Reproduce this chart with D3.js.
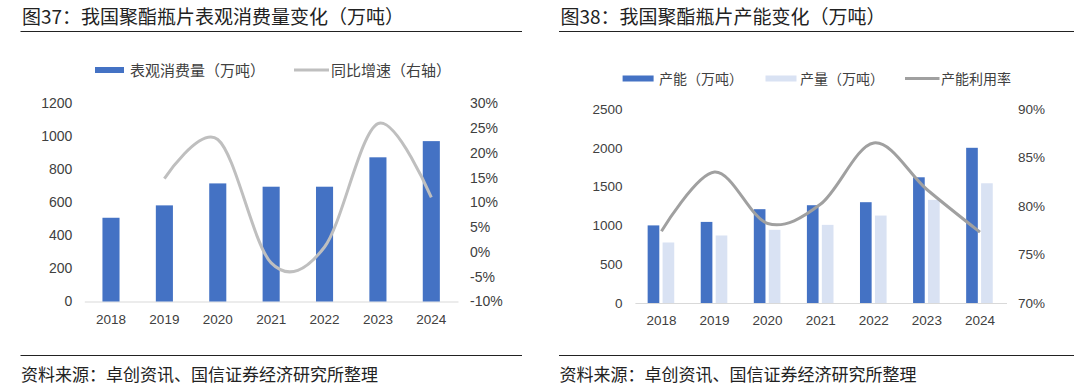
<!DOCTYPE html>
<html>
<head>
<meta charset="utf-8">
<style>
  body { margin: 0; background: #fff; }
  svg { display: block; }
  .cn { font-family: "Noto Sans CJK SC", "Noto Sans", sans-serif; }
  .tick text { font-family: "Liberation Sans", Arial, sans-serif; fill: #404040; }
</style>
</head>
<body>
<svg id="chart"></svg>
<script src="https://d3js.org/d3.v7.min.js"></script>
<script>
// ---- data ----
var years = ['2018', '2019', '2020', '2021', '2022', '2023', '2024'];
// figure 37
var consumption = [507, 582, 715, 695, 695, 873, 971];
var consumptionYoY = [null, 14.8, 22.7, -2.2, 1.0, 25.9, 11.0];
var consTicks = [0, 200, 400, 600, 800, 1000, 1200];
var yoyTicks = [-10, -5, 0, 5, 10, 15, 20, 25, 30];
// figure 38
var capacity = [1000, 1045, 1209, 1260, 1299, 1620, 2000];
var output = [780, 870, 943, 1007, 1127, 1329, 1543];
var utilization = [77.4, 83.5, 78.2, 80.2, 86.5, 81.7, 77.3];
var capTicks = [0, 500, 1000, 1500, 2000, 2500];
var utilTicks = [70, 75, 80, 85, 90];

var titles = ['图37：我国聚酯瓶片表观消费量变化（万吨）', '图38：我国聚酯瓶片产能变化（万吨）'];
var source = '资料来源：卓创资讯、国信证券经济研究所整理';

var blue = '#4472c4', light = '#d9e2f3';
var pct = function (d) { return d + '%'; };

var svg = d3.select('#chart').attr('width', 1080).attr('height', 386);
svg.append('rect').attr('width', 1080).attr('height', 386).attr('fill', '#fff');

// titles, rules and source lines
function frame(x0, x1, title) {
  svg.append('text').attr('class', 'cn').attr('x', x0 + 1.5).attr('y', 23.5)
    .attr('font-size', 19).attr('fill', '#222').text(title);
  svg.append('line').attr('x1', x0).attr('x2', x1).attr('y1', 31.5).attr('y2', 31.5)
    .attr('stroke', '#222').attr('stroke-width', 1.2);
  svg.append('line').attr('x1', x0).attr('x2', x1).attr('y1', 355.5).attr('y2', 355.5)
    .attr('stroke', '#222').attr('stroke-width', 1.2);
  svg.append('text').attr('class', 'cn').attr('x', x0 + 0.5).attr('y', 380.8)
    .attr('font-size', 17).attr('fill', '#222').text(source);
}
frame(20.5, 522, titles[0]);
frame(559, 1074, titles[1]);

function styleAxis(g, size) {
  g.select('.domain').remove();
  g.selectAll('.tick line').remove();
  g.selectAll('.tick text').attr('font-size', size);
}
function styleXAxis(g, size) {
  g.selectAll('.tick line').remove();
  g.selectAll('.tick text').attr('font-size', size);
  g.select('.domain').attr('stroke', '#d9d9d9').attr('stroke-width', 1);
}

// ---- figure 37 ----
var x1 = d3.scaleBand().domain(years).range([84.3, 458]).paddingInner(0.68).paddingOuter(0.34);
var yL1 = d3.scaleLinear().domain([0, 1200]).range([301.5, 103.3]);
var yR1 = d3.scaleLinear().domain([-10, 30]).range([301.5, 103.3]);

svg.append('g').attr('transform', 'translate(84.3,0)')
  .call(d3.axisLeft(yL1).tickValues(consTicks).tickSize(0).tickPadding(12).tickFormat(d3.format('d')))
  .call(styleAxis, 14);
svg.append('g').attr('transform', 'translate(458,0)')
  .call(d3.axisRight(yR1).tickValues(yoyTicks).tickSize(0).tickPadding(12).tickFormat(pct))
  .call(styleAxis, 14);
svg.append('g').attr('transform', 'translate(0,301.5)')
  .call(d3.axisBottom(x1).tickSize(0).tickPadding(13))
  .call(styleXAxis, 13.5);

svg.append('g').selectAll('rect').data(consumption).enter().append('rect')
  .attr('x', function (d, i) { return x1(years[i]); })
  .attr('y', function (d) { return yL1(d); })
  .attr('width', x1.bandwidth())
  .attr('height', function (d) { return yL1(0) - yL1(d); })
  .attr('fill', blue);

var line1 = d3.line()
  .defined(function (d) { return d != null; })
  .x(function (d, i) { return x1(years[i]) + x1.bandwidth() / 2; })
  .y(function (d) { return yR1(d); })
  .curve(d3.curveCardinal.tension(0));
svg.append('path').datum(consumptionYoY).attr('d', line1)
  .attr('fill', 'none').attr('stroke', '#bfbfbf').attr('stroke-width', 3);

// legend 37
var lg1 = svg.append('g').attr('class', 'cn').attr('font-size', 15).attr('fill', '#404040');
lg1.append('rect').attr('x', 95).attr('y', 67).attr('width', 29).attr('height', 6).attr('fill', blue);
lg1.append('text').attr('x', 130).attr('y', 75.5).text('表观消费量（万吨）');
lg1.append('line').attr('x1', 294).attr('x2', 329).attr('y1', 70).attr('y2', 70)
  .attr('stroke', '#bfbfbf').attr('stroke-width', 3);
lg1.append('text').attr('x', 331).attr('y', 75.5).text('同比增速（右轴）');

// ---- figure 38 ----
var x2 = d3.scaleBand().domain(years).range([634.9, 1006.5]);
var bw = x2.bandwidth();
var xSub = d3.scaleBand().domain(['cap', 'out']).range([bw / 2 - 13.8, bw / 2 + 12.8]).paddingInner(0.22);
var yL2 = d3.scaleLinear().domain([0, 2500]).range([303, 109]);
var yR2 = d3.scaleLinear().domain([70, 90]).range([303, 109]);

svg.append('g').attr('transform', 'translate(634.9,0)')
  .call(d3.axisLeft(yL2).tickValues(capTicks).tickSize(0).tickPadding(12.3).tickFormat(d3.format('d')))
  .call(styleAxis, 13.5);
svg.append('g').attr('transform', 'translate(1006.5,0)')
  .call(d3.axisRight(yR2).tickValues(utilTicks).tickSize(0).tickPadding(11.5).tickFormat(pct))
  .call(styleAxis, 13.5);
svg.append('g').attr('transform', 'translate(0,303)')
  .call(d3.axisBottom(x2).tickSize(0).tickPadding(12))
  .call(styleXAxis, 13.5);

var bars2 = svg.append('g');
bars2.selectAll('rect.cap').data(capacity).enter().append('rect').attr('class', 'cap')
  .attr('x', function (d, i) { return x2(years[i]) + xSub('cap'); })
  .attr('y', function (d) { return yL2(d); })
  .attr('width', xSub.bandwidth())
  .attr('height', function (d) { return yL2(0) - yL2(d); })
  .attr('fill', blue);
bars2.selectAll('rect.out').data(output).enter().append('rect').attr('class', 'out')
  .attr('x', function (d, i) { return x2(years[i]) + xSub('out'); })
  .attr('y', function (d) { return yL2(d); })
  .attr('width', xSub.bandwidth())
  .attr('height', function (d) { return yL2(0) - yL2(d); })
  .attr('fill', light);

var line2 = d3.line()
  .x(function (d, i) { return x2(years[i]) + bw / 2; })
  .y(function (d) { return yR2(d); })
  .curve(d3.curveCardinal.tension(0));
svg.append('path').datum(utilization).attr('d', line2)
  .attr('fill', 'none').attr('stroke', '#a0a0a0').attr('stroke-width', 3);

// legend 38
var lg2 = svg.append('g').attr('class', 'cn').attr('font-size', 14).attr('fill', '#404040');
lg2.append('rect').attr('x', 622.6).attr('y', 75.5).attr('width', 31).attr('height', 6).attr('fill', blue);
lg2.append('text').attr('x', 659).attr('y', 83.5).text('产能（万吨）');
lg2.append('rect').attr('x', 765.5).attr('y', 75.5).attr('width', 31).attr('height', 6).attr('fill', light);
lg2.append('text').attr('x', 800).attr('y', 83.5).text('产量（万吨）');
lg2.append('line').attr('x1', 905).attr('x2', 939.5).attr('y1', 78.5).attr('y2', 78.5)
  .attr('stroke', '#a0a0a0').attr('stroke-width', 3);
lg2.append('text').attr('x', 941).attr('y', 83.5).text('产能利用率');
</script>
</body>
</html>
